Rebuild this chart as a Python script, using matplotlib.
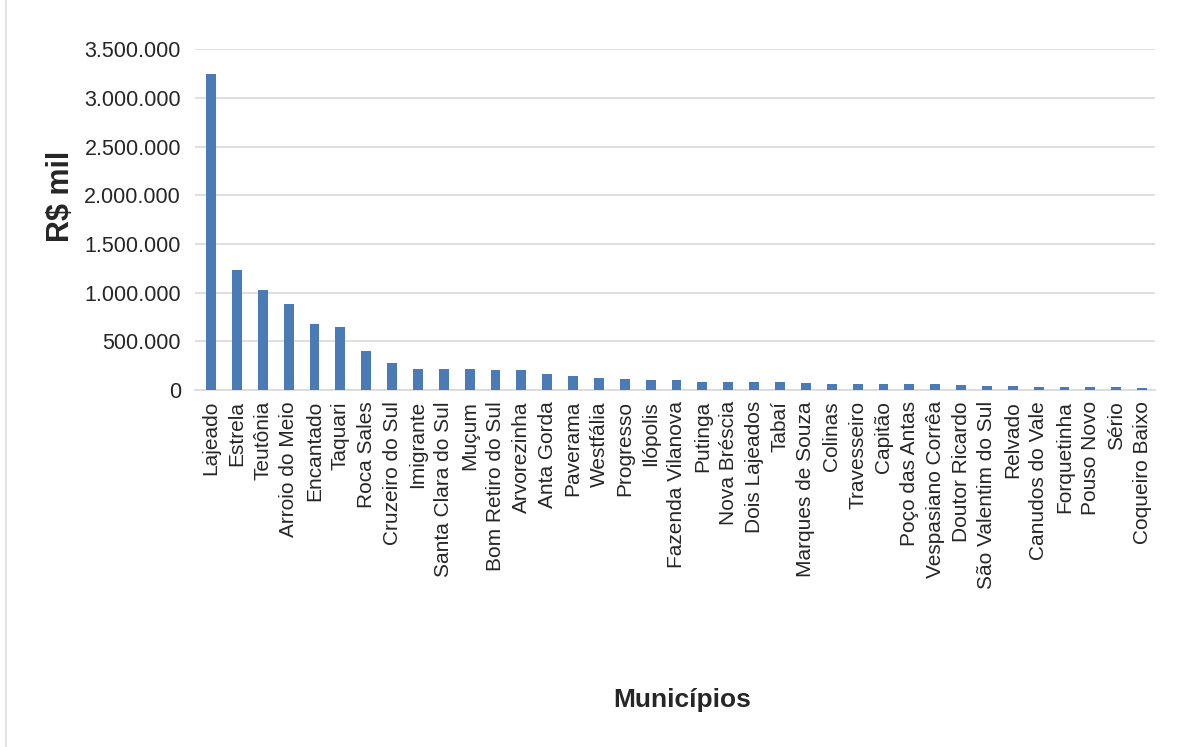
import matplotlib
matplotlib.use("Agg")
import matplotlib.pyplot as plt
from matplotlib.ticker import FuncFormatter, MultipleLocator
from matplotlib.lines import Line2D

municipios = [
    "Lajeado", "Estrela", "Teutônia", "Arroio do Meio", "Encantado", "Taquari",
    "Roca Sales", "Cruzeiro do Sul", "Imigrante", "Santa Clara do Sul", "Muçum",
    "Bom Retiro do Sul", "Arvorezinha", "Anta Gorda", "Paverama", "Westfália",
    "Progresso", "Ilópolis", "Fazenda Vilanova", "Putinga", "Nova Bréscia",
    "Dois Lajeados", "Tabaí", "Marques de Souza", "Colinas", "Travesseiro",
    "Capitão", "Poço das Antas", "Vespasiano Corrêa", "Doutor Ricardo",
    "São Valentim do Sul", "Relvado", "Canudos do Vale", "Forquetinha",
    "Pouso Novo", "Sério", "Coqueiro Baixo",
]
pib_mil = [
    3250000, 1230000, 1030000, 886000, 680000, 648000,
    395000, 280000, 217000, 215000, 214000,
    202000, 200000, 165000, 148000, 120000,
    115000, 105000, 102000, 86000, 80000,
    78000, 77000, 75000, 65000, 60000,
    58000, 57000, 56000, 49000,
    42000, 41000, 35000, 34000,
    33000, 28000, 15000,
]

plt.rcParams["font.family"] = ["Liberation Sans", "DejaVu Sans"]

fig = plt.figure(figsize=(11.78, 7.47), dpi=100)
ax = fig.add_axes([0.1655, 0.478, 0.815, 0.456])

x = range(len(municipios))
ax.bar(x, pib_mil, width=0.38, color="#4a7bb7", zorder=3)

ax.set_ylim(0, 3500000)
ax.set_xlim(-0.62, len(municipios) - 0.5)
ax.yaxis.set_major_locator(MultipleLocator(500000))
ax.yaxis.set_major_formatter(FuncFormatter(lambda v, p: f"{int(v):,}".replace(",", ".")))
ax.grid(axis="y", color="#d9d9d9", linewidth=1.2, zorder=0)

for s in ["top", "right", "left"]:
    ax.spines[s].set_visible(False)
ax.spines["bottom"].set_color("#d9d9d9")
ax.spines["bottom"].set_linewidth(1.2)

ax.set_xticks(list(x))
ax.set_xticklabels(municipios, rotation=90, fontsize=15, color="#262626")
ax.tick_params(axis="y", labelsize=15.5, labelcolor="#262626", length=0, pad=10)
ax.tick_params(axis="x", length=0, pad=8)

fig.text(0.052, 0.737, "R$ mil", fontsize=22, fontweight="bold", color="#262626",
         rotation=90, ha="center", va="center")
fig.text(0.579, 0.063, "Municípios", fontsize=19, fontweight="bold",
         color="#262626", ha="center", va="center")

fig.add_artist(Line2D([0.005, 0.005], [0.0, 1.0], transform=fig.transFigure,
                      color="#e0e0e0", linewidth=1.2))

fig.savefig("out.png", dpi=100, facecolor="white")
